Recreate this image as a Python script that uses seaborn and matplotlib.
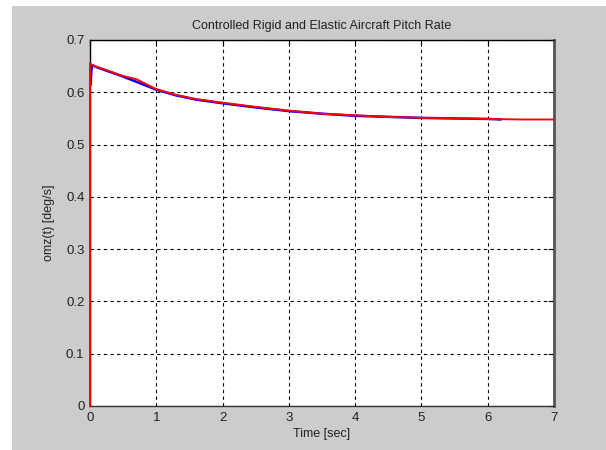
import matplotlib
matplotlib.use("Agg")
import matplotlib.pyplot as plt
import seaborn as sns
import pandas as pd
from matplotlib.patches import Rectangle

# Rigid aircraft pitch rate (blue)
rigid_t = [0.01, 0.02, 0.03, 0.1, 0.3, 0.5, 0.7, 1.0, 1.3, 1.6, 2.0, 2.5, 3.0, 3.5,
           4.0, 4.5, 5.0, 5.5, 6.0, 6.2]
rigid_omz = [0.615, 0.64, 0.652, 0.648, 0.639, 0.630, 0.620, 0.605, 0.594, 0.586,
             0.579, 0.571, 0.564, 0.559, 0.555, 0.553, 0.551, 0.550, 0.549, 0.548]

# Elastic aircraft pitch rate (red)
elastic_t = [0.0, 0.0, 0.03, 0.1, 0.3, 0.5, 0.6, 0.7, 1.0, 1.3, 1.6, 2.0, 2.5, 3.0,
             3.5, 4.0, 4.5, 5.0, 5.5, 6.0, 6.5, 7.0]
elastic_omz = [0.0, 0.655, 0.652, 0.649, 0.640, 0.631, 0.628, 0.625, 0.606, 0.595,
               0.587, 0.580, 0.572, 0.565, 0.559, 0.556, 0.553, 0.551, 0.550, 0.549,
               0.548, 0.548]

x_ticks = [0, 1, 2, 3, 4, 5, 6, 7]
y_ticks = [0, 0.1, 0.2, 0.3, 0.4, 0.5, 0.6, 0.7]
y_tick_labels = ["0", "0.1", "0.2", "0.3", "0.4", "0.5", "0.6", "0.7"]

sns.set_style("white")
plt.rcParams["font.family"] = ["Liberation Sans", "DejaVu Sans"]

fig = plt.figure(figsize=(6.06, 4.5), dpi=100, facecolor="#cccccc")
# white margins left and top (screenshot crop)
fig.patches.append(Rectangle((0, 0), 12 / 606, 1, transform=fig.transFigure,
                             facecolor="white", edgecolor="none", zorder=0))
fig.patches.append(Rectangle((0, 1 - 6 / 450), 1, 6 / 450, transform=fig.transFigure,
                             facecolor="white", edgecolor="none", zorder=0))

ax = fig.add_axes([90 / 606, 44 / 450, 464 / 606, 366 / 450])
ax.set_facecolor("white")

rigid = pd.DataFrame({"t": rigid_t, "omz": rigid_omz})
elastic = pd.DataFrame({"t": elastic_t, "omz": elastic_omz})

sns.lineplot(data=rigid, x="t", y="omz", ax=ax, color="#0000ff", linewidth=1.8,
             sort=False, estimator=None, zorder=3)
sns.lineplot(data=elastic, x="t", y="omz", ax=ax, color="#ff0000", linewidth=1.4,
             sort=False, estimator=None, zorder=4, clip_on=False)

ax.set_xlim(0, 7)
ax.set_ylim(0, 0.7)
ax.set_xticks(x_ticks)
ax.set_yticks(y_ticks)
ax.set_yticklabels(y_tick_labels)
ax.grid(True, color="black", linestyle=(0, (3, 3)), linewidth=0.8)
ax.set_axisbelow(True)
ax.tick_params(direction="in", length=4, top=True, right=True, labelsize=9.5,
               colors="black", pad=4)
for lab in ax.get_xticklabels() + ax.get_yticklabels():
    lab.set_color("#222222")

for side in ["left", "bottom", "top"]:
    ax.spines[side].set_color("black")
    ax.spines[side].set_linewidth(1.0)
ax.spines["right"].set_color("#555555")
ax.spines["right"].set_linewidth(2.0)
ax.spines["bottom"].set_color("#333333")

ax.set_title("Controlled Rigid and Elastic Aircraft Pitch Rate", fontsize=9, pad=8,
             color="#222222")
ax.set_xlabel("Time [sec]", fontsize=9, labelpad=3, color="#222222")
ax.set_ylabel("omz(t) [deg/s]", fontsize=9, labelpad=8, color="#222222")

fig.savefig("out.png", dpi=100, facecolor=fig.get_facecolor())
